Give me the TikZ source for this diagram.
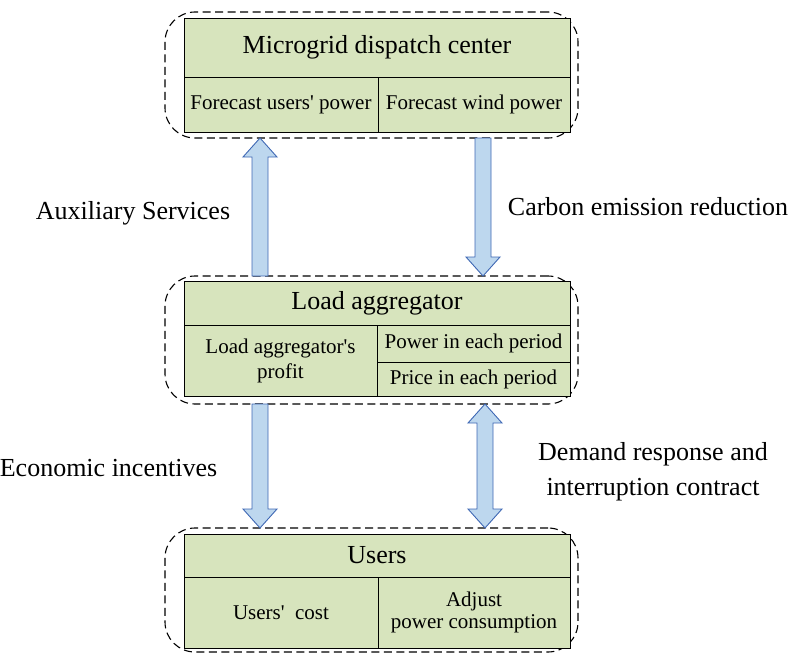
\documentclass[tikz,border=0pt]{standalone}
\usepackage{fontspec}
\setmainfont{Liberation Serif}[Ligatures=TeXOff]
\usetikzlibrary{calc,positioning}
\definecolor{cellgreen}{HTML}{D7E4BD}
\definecolor{arrowfill}{HTML}{BDD7EE}
\definecolor{arrowdraw}{HTML}{3F68B4}
\begin{document}
\begin{tikzpicture}[x=1pt, y=-1pt,
  group/.style={draw, dash pattern=on 8pt off 4.5pt, line width=1.1pt, rounded corners=30pt, inner sep=0pt, outer sep=0pt},
  cell/.style={draw, fill=cellgreen, line width=0.8pt, inner sep=0pt, outer sep=0pt, align=center, font=\fontsize{21}{24}\selectfont},
  headcell/.style={cell, font=\fontsize{26}{30}\selectfont},
  lbl/.style={align=center, font=\fontsize{26}{35}\selectfont},
  fat/.style={draw=arrowdraw, fill=arrowfill, line width=0.9pt,
    to path={let \p1=(\tikztostart), \p2=(\tikztotarget), \p3=($(\p2)!19pt!(\p1)$) in
      (\x1-8pt,\y1) -- (\x1-8pt,\y3) -- (\x1-17pt,\y3) -- (\x2,\y2) -- (\x1+17pt,\y3) -- (\x1+8pt,\y3) -- (\x1+8pt,\y1) -- cycle}},
  fatboth/.style={draw=arrowdraw, fill=arrowfill, line width=0.9pt,
    to path={let \p1=(\tikztostart), \p2=(\tikztotarget), \p3=($(\p2)!19pt!(\p1)$), \p4=($(\p1)!19pt!(\p2)$) in
      (\x1,\y1) -- (\x1-17pt,\y4) -- (\x1-8pt,\y4) -- (\x1-8pt,\y3) -- (\x1-17pt,\y3) -- (\x2,\y2)
      -- (\x1+17pt,\y3) -- (\x1+8pt,\y3) -- (\x1+8pt,\y4) -- (\x1+17pt,\y4) -- cycle}}]
\useasboundingbox (0,0) rectangle (793,653);

% microgrid dispatch center
\node[group, minimum width=413, minimum height=126] (dc) at (371.5,75) {};
\node[headcell, minimum width=386, minimum height=59] (dcT) at (377,47.5) {Microgrid dispatch center};
\node[cell, anchor=north west, minimum width=194, minimum height=55] (dcL) at (dcT.south west) {Forecast users' power};
\node[cell, anchor=north east, minimum width=192, minimum height=55] (dcR) at (dcT.south east) {Forecast wind power};

% load aggregator
\node[group, minimum width=413, minimum height=128] (la) at (371.5,340) {};
\node[headcell, minimum width=386, minimum height=44] (laT) at (377,303) {Load aggregator};
\node[cell, anchor=north west, minimum width=193, minimum height=71, font=\fontsize{21}{25}\selectfont] (laL) at (laT.south west) {Load aggregator's\\profit};
\node[cell, anchor=north east, minimum width=193, minimum height=37] (laR1) at (laT.south east) {Power in each period};
\node[cell, anchor=north, minimum width=193, minimum height=34] (laR2) at (laR1.south) {Price in each period};

% users
\node[group, minimum width=413, minimum height=124] (us) at (371.5,590) {};
\node[headcell, minimum width=386, minimum height=43] (usT) at (377,555.5) {Users};
\node[cell, anchor=north west, minimum width=194, minimum height=71] (usL) at (usT.south west) {Users'~ cost};
\node[cell, anchor=north east, minimum width=192, minimum height=71, font=\fontsize{21}{22}\selectfont] (usR) at (usT.south east) {Adjust\\power consumption};

% labels
\node[lbl] (auxL) at (133,213) {Auxiliary Services};
\node[lbl] (carbL) at (648,207) {Carbon emission reduction};
\node[lbl] (ecoL) at (108.5,468) {Economic incentives};
\node[lbl] (demL) at (653,472) {Demand response and\\interruption contract};

% arrows
\coordinate (xa) at (260,0);
\coordinate (xb) at (483,0);
\coordinate (xc) at (485,0);
\draw[fat] (la.north -| xa) to (dc.south -| xa);
\draw[fat] (dc.south -| xb) to (la.north -| xb);
\draw[fat] (la.south -| xa) to (us.north -| xa);
\draw[fatboth] (la.south -| xc) to (us.north -| xc);
\end{tikzpicture}
\end{document}
